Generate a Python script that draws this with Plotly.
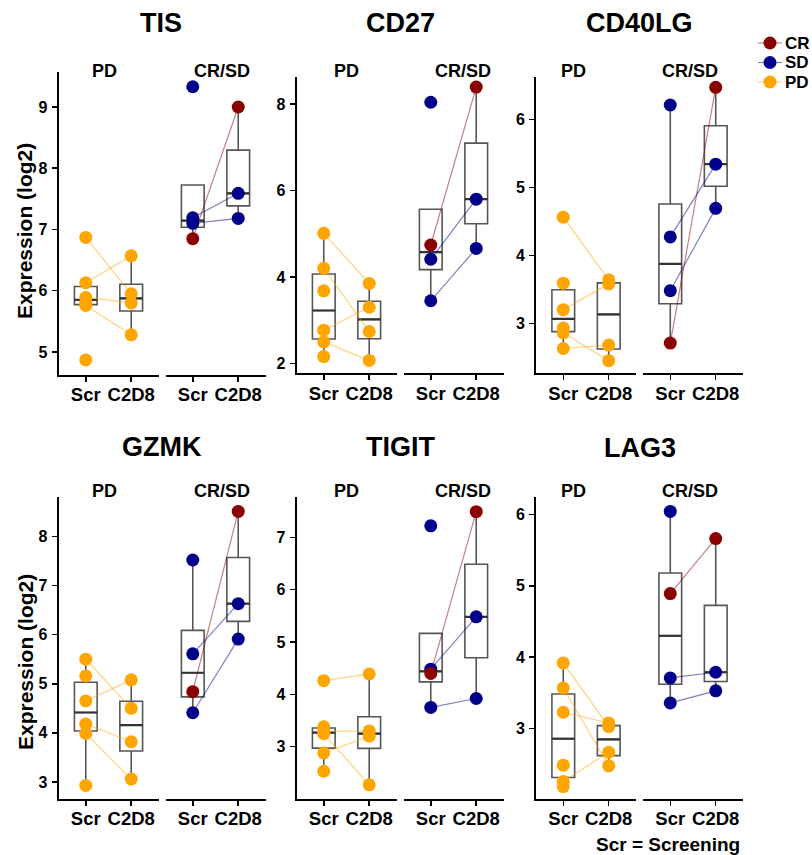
import numpy as np
import plotly.graph_objects as go

# ---------------- data ----------------
genes = ["TIS", "CD27", "CD40LG", "GZMK", "TIGIT", "LAG3"]
timepoints = ["Scr", "C2D8"]
group_labels = ["PD", "CR/SD"]
crsd_response = ["CR", "SD", "SD", "SD"]
legend_labels = ["CR", "SD", "PD"]

# PD patients (same order Scr / C2D8, None = no C2D8 sample)
tis_pd_scr = [6.87, 6.13, 5.89, 5.76, 5.81, 4.87]
tis_pd_c2d8 = [5.95, 6.57, 5.80, 5.28, None, None]
cd27_pd_scr = [5.01, 4.20, 2.77, 2.50, 3.68, 2.16]
cd27_pd_c2d8 = [3.85, 2.74, 3.30, 2.07, None, None]
cd40lg_pd_scr = [4.56, 3.20, 2.86, 2.63, 3.59, 2.93]
cd40lg_pd_c2d8 = [3.64, 3.58, 2.45, 2.68, None, None]
gzmk_pd_scr = [5.50, 4.65, 4.18, 3.99, 5.16, 2.93]
gzmk_pd_c2d8 = [4.50, 5.08, 3.82, 3.06, None, None]
tigit_pd_scr = [4.26, 3.29, 3.25, 2.88, 3.38, 2.53]
tigit_pd_c2d8 = [4.39, 3.30, 2.27, 3.20, None, None]
lag3_pd_scr = [3.92, 3.23, 3.57, 2.26, 2.49, 2.19]
lag3_pd_c2d8 = [3.03, 3.08, 2.48, 2.67, None, None]

# CR/SD patients (order follows crsd_response)
tis_crsd_scr = [6.85, 7.19, 7.10, 9.33]
tis_crsd_c2d8 = [9.00, 7.59, 7.18, None]
cd27_crsd_scr = [4.74, 4.41, 3.45, 8.04]
cd27_crsd_c2d8 = [8.39, 5.80, 4.66, None]
cd40lg_crsd_scr = [2.71, 4.27, 3.48, 6.21]
cd40lg_crsd_c2d8 = [6.47, 5.34, 4.69, None]
gzmk_crsd_scr = [4.84, 5.61, 4.41, 7.52]
gzmk_crsd_c2d8 = [8.51, 6.63, 5.91, None]
tigit_crsd_scr = [4.40, 4.48, 3.75, 7.22]
tigit_crsd_c2d8 = [7.49, 5.48, 3.92, None]
lag3_crsd_scr = [4.89, 3.71, 3.36, 6.04]
lag3_crsd_c2d8 = [5.66, 3.79, 3.53, None]

y_ticks = {
    "TIS": [5, 6, 7, 8, 9],
    "CD27": [2, 4, 6, 8],
    "CD40LG": [3, 4, 5, 6],
    "GZMK": [3, 4, 5, 6, 7, 8],
    "TIGIT": [3, 4, 5, 6, 7],
    "LAG3": [3, 4, 5, 6],
}

panel_data = {
    "TIS": (tis_pd_scr, tis_pd_c2d8, tis_crsd_scr, tis_crsd_c2d8),
    "CD27": (cd27_pd_scr, cd27_pd_c2d8, cd27_crsd_scr, cd27_crsd_c2d8),
    "CD40LG": (cd40lg_pd_scr, cd40lg_pd_c2d8, cd40lg_crsd_scr, cd40lg_crsd_c2d8),
    "GZMK": (gzmk_pd_scr, gzmk_pd_c2d8, gzmk_crsd_scr, gzmk_crsd_c2d8),
    "TIGIT": (tigit_pd_scr, tigit_pd_c2d8, tigit_crsd_scr, tigit_crsd_c2d8),
    "LAG3": (lag3_pd_scr, lag3_pd_c2d8, lag3_crsd_scr, lag3_crsd_c2d8),
}

# ---------------- styling / layout constants ----------------
W, H = 812, 855
FONT = "Liberation Sans, Arial, Helvetica, sans-serif"
colors = {"CR": "#8B0000", "SD": "#00008B", "PD": "#FFA500"}
line_colors = {"CR": "rgba(139,0,0,0.5)", "SD": "rgba(0,0,139,0.5)", "PD": "rgba(255,165,0,0.5)"}
BOX_W = 0.5

col_left = [58.5, 296.5, 536.0]          # px, left edge of PD facet
facet_w, facet_gap = 100.0, 7.0
row_dom = {  # px top / bottom of plotting area per panel
    "TIS": (71.7, 375.0), "CD27": (76.7, 373.3), "CD40LG": (76.7, 373.3),
    "GZMK": (497.0, 799.0), "TIGIT": (497.0, 799.0), "LAG3": (497.0, 799.0),
}
y_ranges = {
    "TIS": [4.624, 9.576], "CD27": [1.773, 8.631], "CD40LG": [2.265, 6.626],
    "GZMK": [2.654, 8.803], "TIGIT": [2.0, 7.77], "LAG3": [2.016, 6.242],
}
title_pos = {"TIS": (161, 23), "CD27": (400, 23), "CD40LG": (639, 23),
             "GZMK": (162, 447), "TIGIT": (400, 447), "LAG3": (640, 448)}
facet_lab_x = [(104, 222), (346, 463), (573, 690)]
facet_lab_y = [71.0, 490.5]
legend_box = dict(x0=750, x1=805, y0=30, y1=95)  # px area of the legend keys
legend_key_x, legend_top, legend_step = 770, 43, 19.5


def px(x):
    return x / W


def py(y):
    return 1 - y / H


def box_stats(vals):
    v = np.array([a for a in vals if a is not None], dtype=float)
    q1, med, q3 = np.percentile(v, [25, 50, 75])
    iqr = q3 - q1
    lo = v[v >= q1 - 1.5 * iqr].min()
    hi = v[v <= q3 + 1.5 * iqr].max()
    return q1, med, q3, min(lo, q1), max(hi, q3)


fig = go.Figure()
layout = {}
annotations = []

tick_font = dict(family=FONT, size=16, color="black", weight="bold")
xtick_font = dict(family=FONT, size=18.5, color="black", weight="bold")

for i, g in enumerate(genes):
    row, col = divmod(i, 3)
    yname = "y" if i == 0 else f"y{i + 1}"
    ykey = "yaxis" if i == 0 else f"yaxis{i + 1}"
    xa_idx = [2 * i + 1, 2 * i + 2]
    top, bot = row_dom[g]
    pd_scr, pd_c2d8, cs_scr, cs_c2d8 = panel_data[g]

    for k, xi in enumerate(xa_idx):
        xname = "x" if xi == 1 else f"x{xi}"
        xkey = "xaxis" if xi == 1 else f"xaxis{xi}"
        left = col_left[col] + k * (facet_w + facet_gap)
        layout[xkey] = dict(
            domain=[px(left), px(left + facet_w)], anchor=yname,
            range=[0.4, 2.6], tickvals=[1, 2], ticktext=timepoints,
            showline=True, linecolor="black", linewidth=2,
            ticks="outside", ticklen=5, tickwidth=1.5, tickcolor="black",
            tickfont=xtick_font, showgrid=False, zeroline=False,
            ticklabelstandoff=-3, fixedrange=True,
        )
        if k == 0:
            scr, c2d8 = pd_scr, pd_c2d8
            resp = ["PD"] * len(scr)
        else:
            scr, c2d8 = cs_scr, cs_c2d8
            resp = crsd_response
        s1 = box_stats(scr)
        s2 = box_stats(c2d8)
        fig.add_trace(go.Box(
            x=[1, 2], q1=[s1[0], s2[0]], median=[s1[1], s2[1]], q3=[s1[2], s2[2]],
            lowerfence=[s1[3], s2[3]], upperfence=[s1[4], s2[4]],
            width=BOX_W, fillcolor="white", line=dict(color="#555555", width=1.6),
            whiskerwidth=0, boxpoints=False, showlegend=False, hoverinfo="skip",
            xaxis=xname, yaxis=yname,
        ))
        # thicker median bars (as in ggplot)
        mx, my = [], []
        for pos, s in zip([1, 2], [s1, s2]):
            mx += [pos - BOX_W / 2, pos + BOX_W / 2, None]
            my += [s[1], s[1], None]
        fig.add_trace(go.Scatter(
            x=mx, y=my, mode="lines", line=dict(color="#333333", width=2.2),
            showlegend=False, hoverinfo="skip", xaxis=xname, yaxis=yname))
        # connecting lines
        for r in ["CR", "SD", "PD"]:
            lx, ly = [], []
            for a, b, rr in zip(scr, c2d8, resp):
                if rr == r and a is not None and b is not None:
                    lx += [1, 2, None]
                    ly += [a, b, None]
            if lx:
                fig.add_trace(go.Scatter(
                    x=lx, y=ly, mode="lines", line=dict(color=line_colors[r], width=1.2),
                    showlegend=False, hoverinfo="skip", xaxis=xname, yaxis=yname))
        # points
        for r in ["PD", "SD", "CR"]:
            px_, py_ = [], []
            for a, b, rr in zip(scr, c2d8, resp):
                if rr != r:
                    continue
                if a is not None:
                    px_.append(1); py_.append(a)
                if b is not None:
                    px_.append(2); py_.append(b)
            if px_:
                fig.add_trace(go.Scatter(
                    x=px_, y=py_, mode="markers", marker=dict(color=colors[r], size=13),
                    showlegend=False, xaxis=xname, yaxis=yname))
        annotations.append(dict(
            text=group_labels[k], x=px(facet_lab_x[col][k]), y=py(facet_lab_y[row]),
            xref="paper", yref="paper", showarrow=False, xanchor="center", yanchor="middle",
            font=dict(family=FONT, size=18, color="black", weight="bold")))

    layout[ykey] = dict(
        domain=[py(bot), py(top)], anchor=("x" if xa_idx[0] == 1 else f"x{xa_idx[0]}"),
        range=y_ranges[g], tickvals=y_ticks[g],
        showline=True, linecolor="black", linewidth=2,
        ticks="outside", ticklen=5, tickwidth=1.5, tickcolor="black",
        tickfont=tick_font, showgrid=False, zeroline=False,
        ticklabelstandoff=1, fixedrange=True,
    )
    tx, ty = title_pos[g]
    annotations.append(dict(
        text=g, x=px(tx), y=py(ty), xref="paper", yref="paper", showarrow=False,
        xanchor="center", yanchor="middle",
        font=dict(family=FONT, size=27, color="black", weight="bold")))

# y-axis titles
for yc in [231, 662]:
    annotations.append(dict(
        text="Expression (log2)", x=px(25), y=py(yc), xref="paper", yref="paper",
        showarrow=False, textangle=-90, xanchor="center", yanchor="middle",
        font=dict(family=FONT, size=21, color="black", weight="bold")))

annotations.append(dict(
    text="Scr = Screening", x=px(668), y=py(844), xref="paper", yref="paper",
    showarrow=False, xanchor="center", yanchor="middle",
    font=dict(family=FONT, size=19, color="black", weight="bold")))

# ---------------- legend (drawn on its own small axis) ----------------
layout["xaxis13"] = dict(domain=[px(legend_box["x0"]), px(legend_box["x1"])], anchor="y7",
                         range=[legend_box["x0"], legend_box["x1"]], visible=False, fixedrange=True)
layout["yaxis7"] = dict(domain=[py(legend_box["y1"]), py(legend_box["y0"])], anchor="x13",
                        range=[legend_box["y1"], legend_box["y0"]], visible=False, fixedrange=True)
for j, r in enumerate(legend_labels):
    yy = legend_top + j * legend_step
    fig.add_trace(go.Scatter(
        x=[legend_key_x - 12, legend_key_x + 12], y=[yy, yy], mode="lines",
        line=dict(color=line_colors[r], width=1.2), showlegend=False, hoverinfo="skip",
        xaxis="x13", yaxis="y7"))
    fig.add_trace(go.Scatter(
        x=[legend_key_x], y=[yy], mode="markers", marker=dict(color=colors[r], size=13),
        showlegend=False, hoverinfo="skip", xaxis="x13", yaxis="y7"))
    annotations.append(dict(
        text=r, x=px(legend_key_x + 13), y=py(yy), xref="paper", yref="paper",
        showarrow=False, xanchor="left", yanchor="middle",
        font=dict(family=FONT, size=17, color="black", weight="bold")))

fig.update_layout(
    width=W, height=H, margin=dict(l=0, r=0, t=0, b=0),
    paper_bgcolor="white", plot_bgcolor="white",
    annotations=annotations, showlegend=False,
    **layout,
)

# the page's default 8px body margin would shift the 812x855 figure; remove it
fig.write_html("out.html",
               config={"displayModeBar": False, "staticPlot": True},
               post_script="document.body.style.margin='0';document.body.style.overflow='hidden';")
